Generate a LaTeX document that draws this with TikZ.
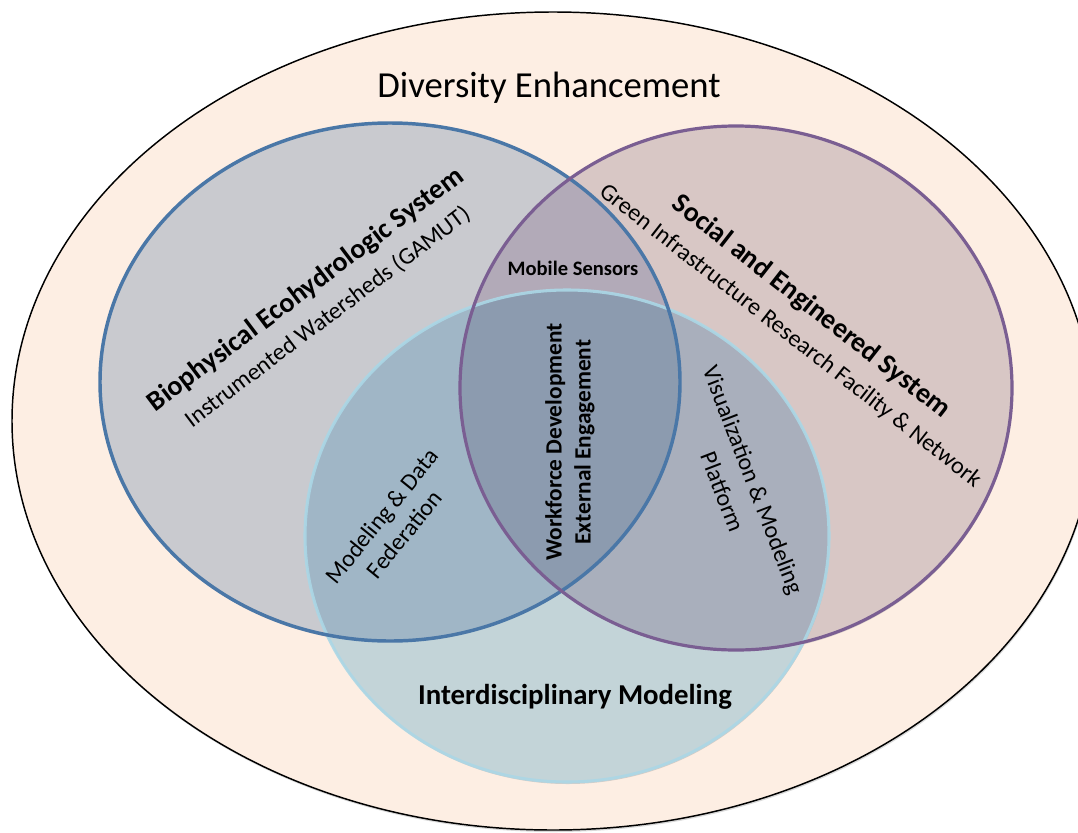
\documentclass[tikz,border=0pt]{standalone}
\usepackage{fontspec}
\setmainfont{Carlito}
\usetikzlibrary{shadows}

\definecolor{peach}{HTML}{FDEEE3}
\definecolor{bioFill}{HTML}{C9CACF}
\definecolor{socFill}{HTML}{D8C7C5}
\definecolor{modFill}{HTML}{C3D4D8}
\definecolor{bioSoc}{HTML}{B2AAB8}
\definecolor{bioMod}{HTML}{A0B6C6}
\definecolor{socMod}{HTML}{A9AFBC}
\definecolor{allThree}{HTML}{8C9BAF}
\definecolor{bioLine}{HTML}{4A77A7}
\definecolor{socLine}{HTML}{7A5E92}
\definecolor{modLine}{HTML}{ABD7E6}

\tikzset{
  heading/.style={font=\fontsize{21}{25}\selectfont\bfseries, inner sep=0pt},
  subheading/.style={font=\fontsize{18}{22}\selectfont, inner sep=0pt},
  overlap/.style={font=\fontsize{18}{21.75}\selectfont, align=center, inner sep=0pt},
  softshadow/.style={drop shadow={opacity=0.3, shadow xshift=0.6pt, shadow yshift=-1.5pt}}
}

\begin{document}
\begin{tikzpicture}[x=0.75pt,y=-0.75pt]
    \useasboundingbox (0,0) rectangle (1078,832);

    % Outer ring
    \fill [peach, softshadow] (553,421) ellipse [x radius=541, y radius=409];
    \draw [line width=1.1pt] (553,421) ellipse [x radius=541, y radius=409];
    \node (diversity) at (549,88) {\fontsize{27.5}{30}\selectfont Diversity Enhancement};

    % Circles
    \fill [bioFill, softshadow] (390,382) ellipse [x radius=290, y radius=259];
    \fill [socFill, softshadow] (736,388) ellipse [x radius=276, y radius=262];
    \fill [modFill, softshadow] (567,536) ellipse [x radius=262, y radius=246];

    % Overlaps
    \begin{scope}
        \clip (390,382) ellipse [x radius=290, y radius=259];
        \fill [bioSoc] (736,388) ellipse [x radius=276, y radius=262];
        \fill [bioMod] (567,536) ellipse [x radius=262, y radius=246];
    \end{scope}
    \begin{scope}
        \clip (736,388) ellipse [x radius=276, y radius=262];
        \fill [socMod] (567,536) ellipse [x radius=262, y radius=246];
        \clip (390,382) ellipse [x radius=290, y radius=259];
        \fill [allThree] (567,536) ellipse [x radius=262, y radius=246];
    \end{scope}

    % Outlines
    \draw [modLine, line width=2.3pt, opacity=0.9] (567,536) ellipse [x radius=262, y radius=246];
    \draw [bioLine, line width=2.6pt] (390,382) ellipse [x radius=290, y radius=259];
    \draw [socLine, line width=2.4pt] (736,388) ellipse [x radius=276, y radius=262];

    % Biophysical
    \node [heading, rotate=37] (bio) at (306,290) {Biophysical Ecohydrologic System};
    \node [subheading, rotate=37] (biosub) at (328,317) {Instrumented Watersheds (GAMUT)};

    % Social and engineered
    \node [heading, rotate=-38] (social) at (811,307) {Social and Engineered System};
    \node [subheading, rotate=-38] (socialsub) at (790,336) {Green Infrastructure Research Facility \& Network};

    % Interdisciplinary modeling
    \node [heading, font=\fontsize{21.6}{25}\selectfont\bfseries] (interdisc) at (575,697) {Interdisciplinary Modeling};

    % Inside the overlaps
    \node [font=\fontsize{15.4}{18}\selectfont\bfseries] (mobile) at (573,268) {Mobile Sensors};
    \node [overlap, font=\fontsize{17.5}{21.75}\selectfont\bfseries, rotate=90] (workforce) at (570,442) {Workforce Development\\External Engagement};
    \node [overlap, rotate=51] (datafed) at (393,525) {Modeling \& Data\\Federation};
    \node [overlap, font=\fontsize{18}{24.75}\selectfont, rotate=-69] (visual) at (738,486) {Visualization \& Modeling\\Platform};

\end{tikzpicture}
\end{document}
